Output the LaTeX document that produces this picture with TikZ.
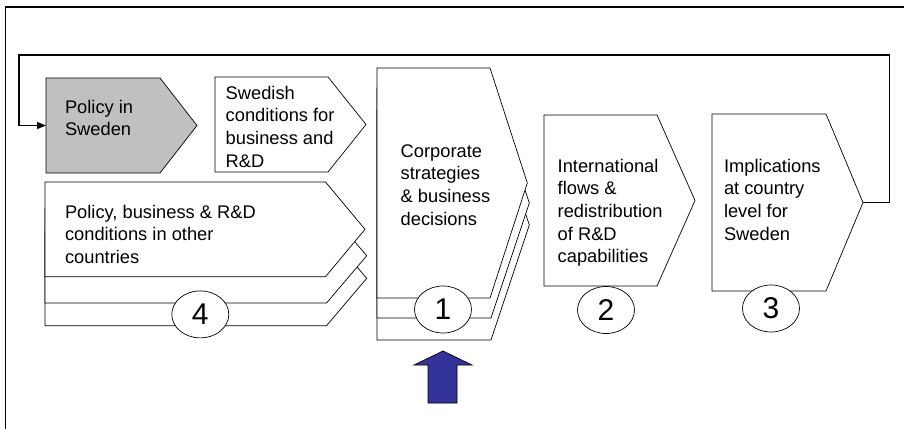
\documentclass[tikz,border=0pt]{standalone}
\usepackage{fontspec}
\setmainfont{Liberation Sans}
\usetikzlibrary{shapes.geometric,arrows.meta}
\definecolor{shapegray}{HTML}{C0C0C0}
\definecolor{arrowblue}{HTML}{333399}
\tikzset{
  chev/.style={draw=black,line width=0.7pt,fill=white,line join=miter},
  graychev/.style={chev,fill=shapegray},
  txt/.style={anchor=base west,inner sep=0pt,outer sep=0pt},
  num/.style={ellipse,draw=black,line width=0.7pt,fill=white,minimum width=57pt,minimum height=47pt,inner sep=0pt,font=\fontsize{30}{31}\selectfont},
  loopline/.style={line width=1.4pt,-{Triangle[length=9pt,width=7pt]}},
  frameline/.style={line width=1.7pt},
  bluearrow/.style={draw=black,line width=0.7pt,fill=arrowblue}
}
% left, top, shoulder, tip, bottom
\newcommand{\mychev}[6][chev]{\draw[#1] (#2,#3) -- (#4,#3) -- (#5,{(#3+#6)/2}) -- (#4,#6) -- (#2,#6) -- cycle;}
\newcommand{\boxtext}[1]{\parbox[t]{300pt}{\raggedright\fontsize{18.3}{22.7}\selectfont #1}}
\begin{document}
\begin{tikzpicture}[x=1pt,y=-1pt]
\useasboundingbox (0,0) rectangle (904,428);
% outer frame (only left and top edges visible)
\draw[frameline] (5.5,430) -- (5.5,7.3) -- (906,7.3);

% chevrons
\mychev[graychev]{46}{78}{160}{197}{173}
\mychev{215}{77}{328}{366}{172}
\mychev{45}{231}{326.5}{366.7}{325.7}
\mychev{45}{208.5}{326.5}{366.7}{303}
\mychev{45}{182}{325.5}{365}{276.7}
\mychev{377}{110}{491}{529.3}{340}
\mychev{377}{88}{491}{529.3}{318}
\mychev{377}{68}{490}{527.3}{298}
\mychev{544}{115}{657}{695}{286}
\mychev{712}{114}{826}{863}{291}

% connector anchors
\coordinate (impltip) at (863,202.5);
\coordinate (polwest) at (46,125.5);

% feedback loop
\draw[loopline] (impltip) -- (889.5,202.5) |- (19,55) |- (polwest);

% texts
\node[txt] (tpol) at (65,113) {\boxtext{Policy in\\Sweden}};
\node[txt] (tswe) at (225.7,99) {\boxtext{Swedish\\conditions for\\business and\\R\&D}};
\node[txt] (toth) at (65,218) {\boxtext{Policy, business \& R\&D\\conditions in other\\countries}};
\node[txt] (tcor) at (400.7,157) {\boxtext{Corporate\\strategies\\\& business\\decisions}};
\node[txt] (tint) at (557.7,172) {\boxtext{International\\flows \&\\redistribution\\of R\&D\\capabilities}};
\node[txt] (timp) at (724,172) {\boxtext{Implications\\at country\\level for\\Sweden}};

% numbered ellipses
\node[num] (n4) at (200.3,314.4) {4};
\node[num] (n1) at (443,309.5) {1};
\node[num] (n2) at (606,310) {2};
\node[num] (n3) at (771,308.5) {3};

% blue arrow
\draw[bluearrow] (443,351) -- (472,365) -- (457,365) -- (457,403) -- (428,403) -- (428,365) -- (414,365) -- cycle;
\end{tikzpicture}
\end{document}
